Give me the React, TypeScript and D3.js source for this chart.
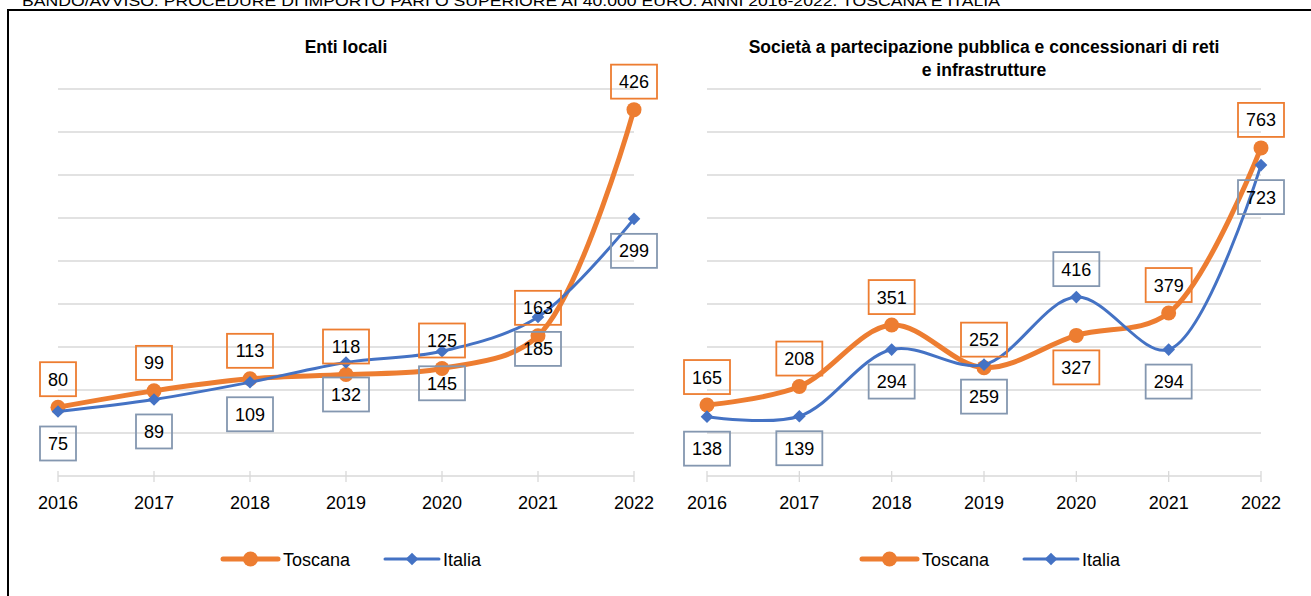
import React from "react";
import * as d3 from "d3";

const YEARS = ["2016", "2017", "2018", "2019", "2020", "2021", "2022"];

const ENTI_TOSCANA = [80, 99, 113, 118, 125, 163, 426];
const ENTI_ITALIA = [75, 89, 109, 132, 145, 185, 299];
const SOC_TOSCANA = [165, 208, 351, 252, 327, 379, 763];
const SOC_ITALIA = [138, 139, 294, 259, 416, 294, 723];

// where each data label sits relative to its point
const ENTI_TOSCANA_POS = ["up", "up", "up", "up", "up", "up", "up"];
const ENTI_ITALIA_POS = ["down", "down", "down", "down", "down", "down", "down"];
const SOC_TOSCANA_POS = ["up", "up", "up", "up", "down", "up", "up"];
const SOC_ITALIA_POS = ["down", "down", "down", "down", "up", "down", "down"];

const TOP_TITLE =
  "BANDO/AVVISO: PROCEDURE DI IMPORTO PARI O SUPERIORE AI 40.000 EURO. ANNI 2016-2022. TOSCANA E ITALIA";

const ORANGE = "#ED7D31";
const BLUE = "#4472C4";
const BLUE_BOX = "#8497B0";
const GRID = "#d9d9d9";
const FONT = "'Liberation Sans', Arial, sans-serif";

const Y_TOP = 89;
const Y_BASE = 476;

const diamond = d3.symbol().type(d3.symbolSquare).size(80)();

type Series = { name: string; values: number[]; pos: string[] };

const Label = ({ x, y, value, color }: { x: number; y: number; value: number; color: string }) => {
  const txt = String(value);
  const w = txt.length * 10 + 16;
  return (
    <g>
      <rect x={x - w / 2} y={y - 17} width={w} height={34} fill="none" stroke={color} strokeWidth={1.8} />
      <text x={x} y={y + 6.5} textAnchor="middle" fontSize={18} fontFamily={FONT} fill="#000">
        {txt}
      </text>
    </g>
  );
};

const Panel = ({
  x0,
  x1,
  yMax,
  step,
  titleLines,
  toscana,
  italia,
  legendX,
}: {
  x0: number;
  x1: number;
  yMax: number;
  step: number;
  titleLines: string[];
  toscana: Series;
  italia: Series;
  legendX: number;
}) => {
  const xScale = d3.scalePoint().domain(YEARS).range([x0, x1]);
  const yScale = d3.scaleLinear().domain([0, yMax]).range([Y_BASE, Y_TOP]);
  const ticks = d3.range(step, yMax + 1, step);
  const line = d3
    .line<number>()
    .x((_, i) => xScale(YEARS[i]) as number)
    .y((d) => yScale(d))
    .curve(d3.curveCatmullRom.alpha(0.5));
  const cx = (x0 + x1) / 2;

  const labelY = (v: number, p: string) => (p === "up" ? yScale(v) - 28 : yScale(v) + 32);

  return (
    <g>
      {titleLines.map((t, i) => (
        <text
          key={i}
          x={cx}
          y={53 + i * 23}
          textAnchor="middle"
          fontSize={17.5}
          fontWeight="bold"
          fontFamily={FONT}
          fill="#000"
        >
          {t}
        </text>
      ))}
      {ticks.map((t) => (
        <line key={t} x1={x0} x2={x1} y1={yScale(t)} y2={yScale(t)} stroke={GRID} strokeWidth={1.3} />
      ))}
      <line x1={x0} x2={x1} y1={Y_BASE} y2={Y_BASE} stroke={GRID} strokeWidth={1.3} />
      {YEARS.map((yr) => (
        <g key={yr}>
          <line x1={xScale(yr)} x2={xScale(yr)} y1={Y_BASE - 5} y2={Y_BASE + 6} stroke={GRID} strokeWidth={1.3} />
          <text x={xScale(yr)} y={509} textAnchor="middle" fontSize={18} fontFamily={FONT} fill="#000">
            {yr}
          </text>
        </g>
      ))}
      <path d={line(toscana.values) || ""} fill="none" stroke={ORANGE} strokeWidth={5} strokeLinecap="round" />
      {toscana.values.map((v, i) => (
        <circle key={i} cx={xScale(YEARS[i])} cy={yScale(v)} r={7.5} fill={ORANGE} />
      ))}
      <path d={line(italia.values) || ""} fill="none" stroke={BLUE} strokeWidth={3} strokeLinecap="round" />
      {italia.values.map((v, i) => (
        <path
          key={i}
          d={diamond || ""}
          transform={`translate(${xScale(YEARS[i])},${yScale(v)}) rotate(45)`}
          fill={BLUE}
        />
      ))}
      {toscana.values.map((v, i) => (
        <Label key={"t" + i} x={xScale(YEARS[i]) as number} y={labelY(v, toscana.pos[i])} value={v} color={ORANGE} />
      ))}
      {italia.values.map((v, i) => (
        <Label key={"i" + i} x={xScale(YEARS[i]) as number} y={labelY(v, italia.pos[i])} value={v} color={BLUE_BOX} />
      ))}
      {/* legend */}
      <g transform={`translate(${legendX},559)`}>
        <line x1={0} x2={55} y1={0} y2={0} stroke={ORANGE} strokeWidth={5} strokeLinecap="round" />
        <circle cx={27.5} cy={0} r={7.5} fill={ORANGE} />
        <text x={60} y={6.5} fontSize={18} fontFamily={FONT} fill="#000">
          {toscana.name}
        </text>
        <line x1={162} x2={216} y1={0} y2={0} stroke={BLUE} strokeWidth={3} strokeLinecap="round" />
        <path d={diamond || ""} transform="translate(189,0) rotate(45)" fill={BLUE} />
        <text x={220} y={6.5} fontSize={18} fontFamily={FONT} fill="#000">
          {italia.name}
        </text>
      </g>
    </g>
  );
};

export default function App() {
  return (
    <svg width={1311} height={596} style={{ position: "absolute", left: 0, top: 0 }}>
      <rect width={1311} height={596} fill="#fff" />
      <text x={22} y={6} fontSize={14} fontFamily={FONT} fill="#000" textLength={978} lengthAdjust="spacingAndGlyphs">
        {TOP_TITLE}
      </text>
      <rect x={8} y={10} width={1320} height={600} fill="none" stroke="#000" strokeWidth={2} />
      <Panel
        x0={58}
        x1={634}
        yMax={450}
        step={50}
        titleLines={["Enti locali"]}
        toscana={{ name: "Toscana", values: ENTI_TOSCANA, pos: ENTI_TOSCANA_POS }}
        italia={{ name: "Italia", values: ENTI_ITALIA, pos: ENTI_ITALIA_POS }}
        legendX={223}
      />
      <Panel
        x0={707}
        x1={1261}
        yMax={900}
        step={100}
        titleLines={["Società a partecipazione pubblica e concessionari di reti", "e infrastrutture"]}
        toscana={{ name: "Toscana", values: SOC_TOSCANA, pos: SOC_TOSCANA_POS }}
        italia={{ name: "Italia", values: SOC_ITALIA, pos: SOC_ITALIA_POS }}
        legendX={862}
      />
    </svg>
  );
}
